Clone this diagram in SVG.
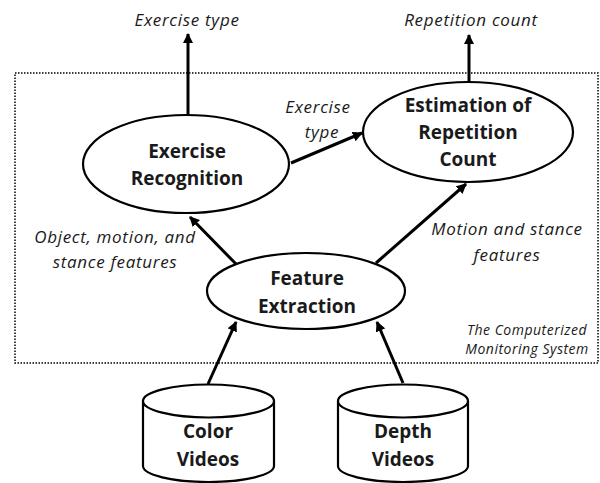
<svg xmlns="http://www.w3.org/2000/svg" width="600" height="483" viewBox="0 0 600 483">
<defs>
<marker id="ah" viewBox="0 0 10 10" refX="9" refY="5" markerWidth="3.4" markerHeight="3.4" orient="auto" markerUnits="strokeWidth">
<path d="M0,0 L10,5 L0,10 z" fill="#000"/>
</marker>
</defs>
<style>
.node{fill:#fff;stroke:#000;stroke-width:2.2}
.b{font-family:"Open Sans","Liberation Sans",sans-serif;font-weight:bold;font-size:19px;fill:#1a1a1a;text-anchor:middle}
.i{font-family:"Open Sans","Liberation Sans",sans-serif;font-style:italic;font-size:17px;letter-spacing:0.7px;fill:#1a1a1a;text-anchor:middle}
.s{font-size:14px;letter-spacing:0.5px}
.c{fill:none;stroke:#000;stroke-width:3;marker-end:url(#ah)}
</style>
<rect x="15" y="73" width="583" height="290" fill="none" stroke="#000" stroke-width="1.5" stroke-dasharray="1.5,1.5"/>
<text class="i s" x="527" y="335">The Computerized</text>
<text class="i s" x="527" y="354">Monitoring System</text>
<g id="connectors">
<line class="c" x1="188" y1="115" x2="188" y2="34"/>
<line class="c" x1="469" y1="82" x2="469" y2="35"/>
<line class="c" x1="291" y1="163" x2="362" y2="133"/>
<line class="c" x1="236" y1="264" x2="190" y2="217"/>
<line class="c" x1="376" y1="263" x2="466" y2="184"/>
<line class="c" x1="208" y1="384" x2="236" y2="322"/>
<line class="c" x1="403" y1="383" x2="377" y2="322"/>
</g>
<g id="labels">
<text class="i" x="187" y="26">Exercise type</text>
<text class="i" x="471" y="26">Repetition count</text>
<text class="i" x="318" y="113">Exercise</text>
<text class="i" x="322" y="138">type</text>
<text class="i" x="115" y="243">Object, motion, and</text>
<text class="i" x="115" y="268">stance features</text>
<text class="i" x="507" y="235">Motion and stance</text>
<text class="i" x="507" y="261">features</text>
</g>
<g id="exercise-recognition">
<ellipse class="node" cx="186" cy="164" rx="103" ry="49"/>
<text class="b" x="187" y="158">Exercise</text>
<text class="b" x="187" y="185">Recognition</text>
</g>
<g id="estimation">
<ellipse class="node" cx="468" cy="132" rx="105" ry="50"/>
<text class="b" x="468" y="112">Estimation of</text>
<text class="b" x="468" y="139">Repetition</text>
<text class="b" x="468" y="166">Count</text>
</g>
<g id="feature-extraction">
<ellipse class="node" cx="306" cy="291" rx="99" ry="38"/>
<text class="b" x="307" y="285">Feature</text>
<text class="b" x="307" y="313">Extraction</text>
</g>
<g id="color-videos">
<path class="node" d="M143,401 L143,466 A65.5,16 0 0 0 274,466 L274,401"/>
<ellipse class="node" cx="208.5" cy="401" rx="65.5" ry="16.5"/>
<text class="b" x="208" y="438">Color</text>
<text class="b" x="208" y="466">Videos</text>
</g>
<g id="depth-videos">
<path class="node" d="M338,401 L338,466 A65,16 0 0 0 468,466 L468,401"/>
<ellipse class="node" cx="403" cy="401" rx="65" ry="16.5"/>
<text class="b" x="403" y="438">Depth</text>
<text class="b" x="403" y="466">Videos</text>
</g>
</svg>
